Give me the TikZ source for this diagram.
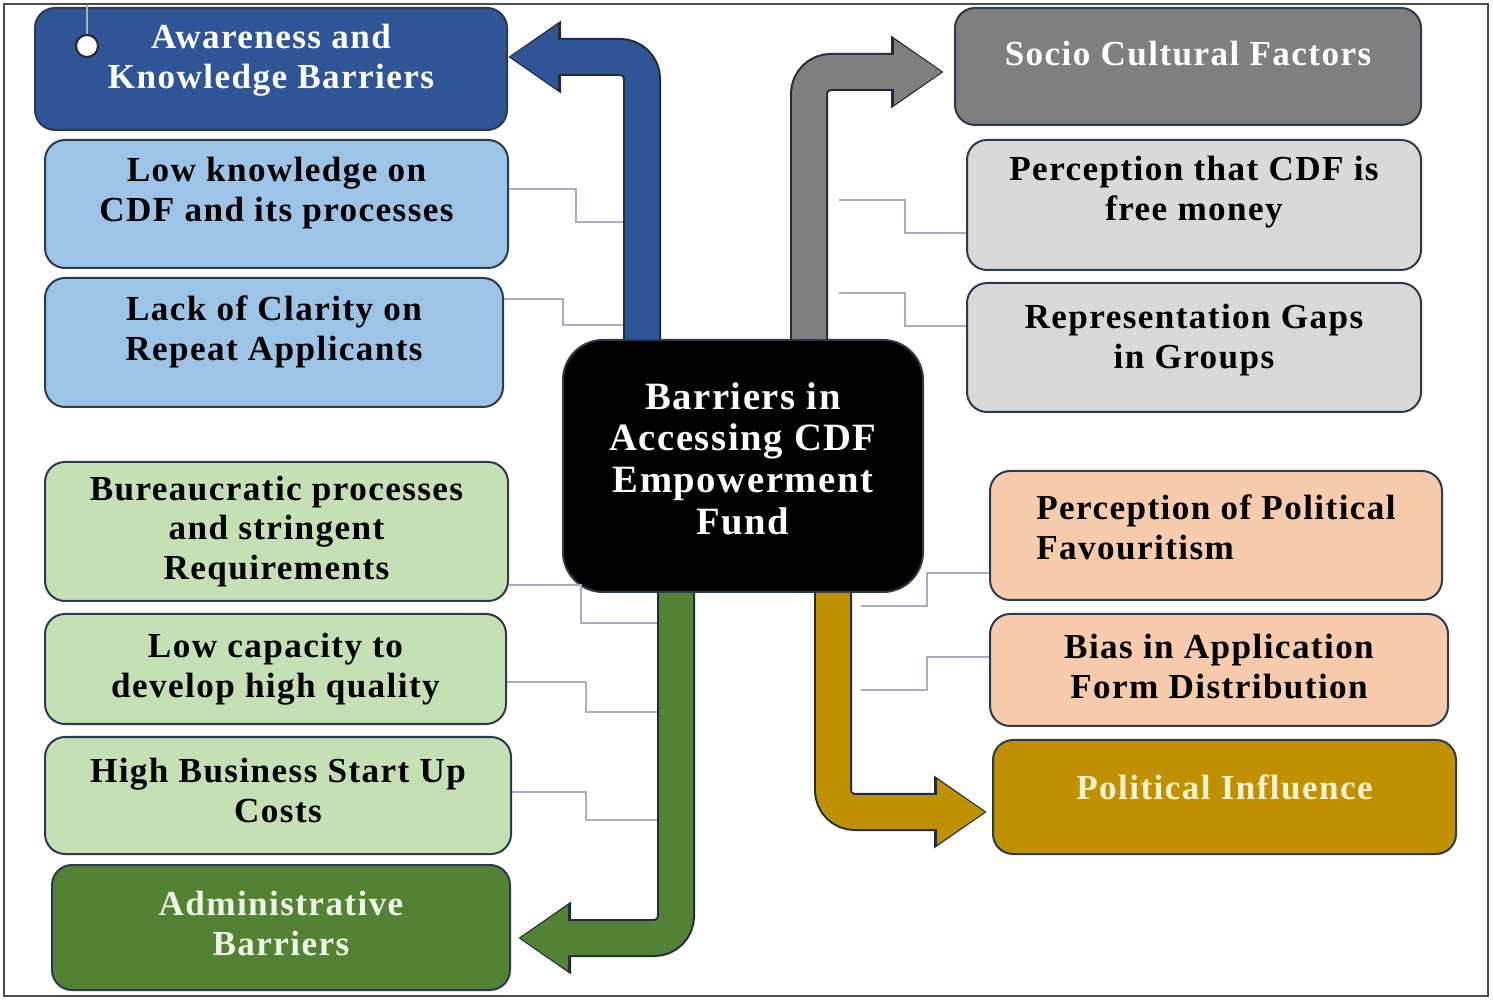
\documentclass[tikz,border=0pt]{standalone}
\usepackage{fontspec}
\setmainfont[LetterSpace=4]{Liberation Serif}
\usepackage{xcolor}
\usetikzlibrary{arrows.meta}

\definecolor{edge}{HTML}{2B3A4E}
\definecolor{arrline}{HTML}{1F2A3A}
\definecolor{linkc}{HTML}{A6AEBF}
\definecolor{awfill}{HTML}{2F5597}
\definecolor{awlight}{HTML}{9DC3E6}
\definecolor{scfill}{HTML}{7F7F7F}
\definecolor{sclight}{HTML}{D9D9D9}
\definecolor{adfill}{HTML}{548235}
\definecolor{adlight}{HTML}{C5E0B4}
\definecolor{pofill}{HTML}{BF9000}
\definecolor{polight}{HTML}{F8CBAD}
\definecolor{potext}{HTML}{FFF2CC}
\definecolor{adtext}{HTML}{EEF5E6}

% strut below the last line, moves the text a bit up in its box
\newcommand{\lift}[1]{\rule[-#1]{0pt}{0pt}}

\begin{document}
\begin{tikzpicture}[font=\fontsize{10}{11.3}\selectfont\bfseries,
  box/.style={draw=edge, line width=0.02cm, rounded corners=0.2cm,
              align=center, inner sep=2pt},
  link/.style={draw=linkc, line width=0.02cm},
  barr/.style={draw=#1, line width=0.34cm, rounded corners=0.22cm,
               -{Triangle[length=0.48cm,width=0.62cm]}, shorten >=0.02cm,
               preaction={draw=arrline, line width=0.38cm, shorten >=0pt,
                          -{Triangle[length=0.53cm,width=0.69cm]}}}]
\useasboundingbox (0,0) rectangle (14.93,-10);
\draw[black!70, line width=0.02cm] (0.04,-0.04) rectangle (14.88,-9.96);

% --- centre ---
\node[box, fill=black, text=white, rounded corners=0.4cm,
      font=\fontsize{11}{11.9}\selectfont\bfseries,
      minimum width=3.60cm, minimum height=2.52cm] (center) at (7.43,-4.66)
  {Barriers in\\ Accessing CDF\\ Empowerment\\ Fund\lift{0.15cm}};

% --- awareness and knowledge ---
\node[box, fill=awfill, text=white, minimum width=4.72cm, minimum height=1.22cm]
  (aware) at (2.71,-0.69) {Awareness and\\ Knowledge Barriers\lift{0.25cm}};
\node[box, fill=awlight, minimum width=4.63cm, minimum height=1.28cm]
  (lowk) at (2.765,-2.04) {Low knowledge on\\ CDF and its processes\lift{0.29cm}};
\node[box, fill=awlight, minimum width=4.58cm, minimum height=1.29cm]
  (clar) at (2.74,-3.425) {Lack of Clarity on\\ Repeat Applicants\lift{0.29cm}};
\node[circle, draw=black!85, fill=white, line width=0.02cm, inner sep=0pt,
      minimum size=0.22cm] (pin) at (0.87,-0.46) {};
\draw[linkc, line width=0.02cm] (pin.north) -- (0.87,-0.05);

% --- administrative ---
\node[box, fill=adlight, minimum width=4.63cm, minimum height=1.39cm]
  (bur) at (2.765,-5.315) {Bureaucratic processes\\ and stringent\\ Requirements};
\node[box, fill=adlight, minimum width=4.61cm, minimum height=1.10cm]
  (cap) at (2.755,-6.69) {Low capacity to\\ develop high quality};
\node[box, fill=adlight, minimum width=4.66cm, minimum height=1.17cm]
  (cost) at (2.78,-7.955) {High Business Start Up\\ Costs\lift{0.10cm}};
\node[box, fill=adfill, text=adtext, minimum width=4.58cm, minimum height=1.25cm]
  (admin) at (2.81,-9.275) {Administrative\\ Barriers\lift{0.08cm}};

% --- socio cultural ---
\node[box, fill=scfill, text=white, minimum width=4.66cm, minimum height=1.17cm]
  (socio) at (11.88,-0.665) {Socio Cultural Factors\lift{0.26cm}};
\node[box, fill=sclight, minimum width=4.54cm, minimum height=1.30cm]
  (free) at (11.94,-2.05) {Perception that CDF is\\ free money\lift{0.33cm}};
\node[box, fill=sclight, minimum width=4.54cm, minimum height=1.29cm]
  (gaps) at (11.94,-3.475) {Representation Gaps\\ in Groups\lift{0.23cm}};

% --- political ---
\node[box, fill=polight, align=left, minimum width=4.52cm, minimum height=1.29cm]
  (fav) at (12.16,-5.355) {Perception of Political\\ Favouritism\lift{0.17cm}};
\node[box, fill=polight, minimum width=4.58cm, minimum height=1.12cm]
  (bias) at (12.19,-6.70) {Bias in Application\\ Form Distribution\lift{0.08cm}};
\node[box, fill=pofill, text=potext, minimum width=4.63cm, minimum height=1.14cm]
  (infl) at (12.245,-7.97) {Political Influence\lift{0.20cm}};

% --- thin links to the shafts ---
\draw[link] ([yshift=0.15cm]lowk.east) -| ++(0.67,-0.33) -- ++(0.50,0);
\draw[link] ([yshift=0.435cm]clar.east) -| ++(0.59,-0.26) -- ++(0.63,0);
\draw[link] ([yshift=-0.28cm]free.west) -| ++(-0.61,0.33) -- ++(-0.66,0);
\draw[link] ([yshift=0.215cm]gaps.west) -| ++(-0.61,0.33) -- ++(-0.66,0);
\draw[link] ([yshift=-0.535cm]bur.east) -| ++(0.72,-0.38) -- ++(0.79,0);
\draw[link] ([yshift=-0.13cm]cap.east) -| ++(0.79,-0.30) -- ++(0.74,0);
\draw[link] ([yshift=0.035cm]cost.east) -| ++(0.74,-0.28) -- ++(0.74,0);
\draw[link] ([yshift=-0.375cm]fav.west) -| ++(-0.62,-0.33) -- ++(-0.66,0);
\draw[link] ([yshift=0.13cm]bias.west) -| ++(-0.62,-0.33) -- ++(-0.66,0);

% --- bent arrows ---
\coordinate (socio tip) at ([xshift=-0.10cm,yshift=-0.055cm]socio.west);
\coordinate (admin tip) at ([xshift=0.07cm,yshift=-0.105cm]admin.east);
\coordinate (infl tip) at ([xshift=-0.05cm,yshift=-0.15cm]infl.west);
\draw[barr=awfill] ([xshift=-1.01cm]center.north) |- ([yshift=0.12cm]aware.east);
\draw[barr=scfill] ([xshift=0.66cm]center.north) |- (socio tip);
\draw[barr=adfill] ([xshift=-0.67cm]center.south) |- (admin tip);
\draw[barr=pofill] ([xshift=0.90cm]center.south) |- (infl tip);
\end{tikzpicture}
\end{document}
